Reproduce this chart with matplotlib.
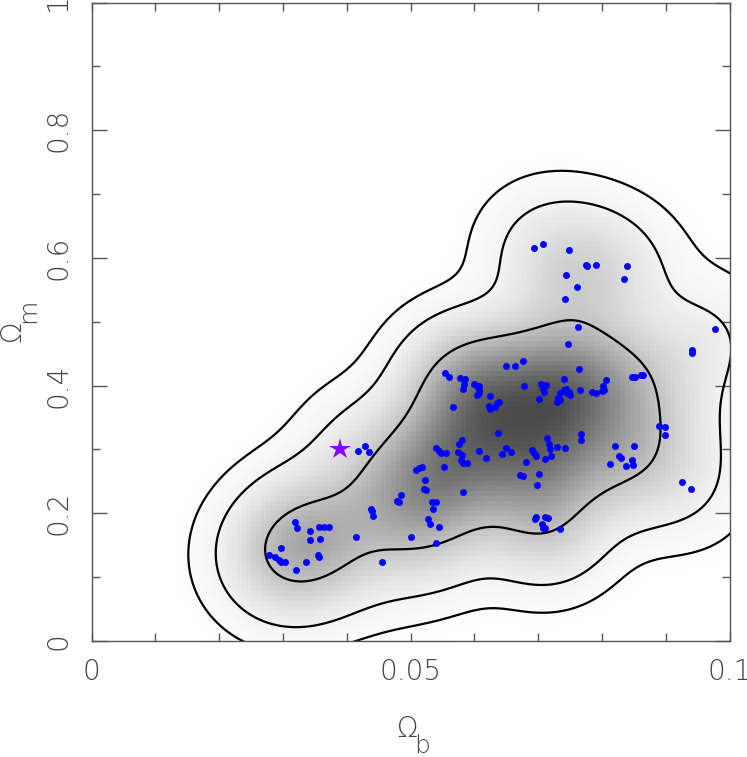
import numpy as np
import matplotlib
matplotlib.use('Agg')
from matplotlib import pyplot as plt
from matplotlib.colors import LinearSegmentedColormap

#Sample points (Omega_b, Omega_m)
omega_b = [0.0694, 0.0708, 0.0749, 0.0775, 0.0777, 0.0790, 0.0839, 0.0834, 0.0743, 0.0761,
           0.0742, 0.0762, 0.0747, 0.0978, 0.0942, 0.0942, 0.0676, 0.0650, 0.0664, 0.0764,
           0.0554, 0.0560, 0.0577, 0.0586, 0.0584, 0.0583, 0.0600, 0.0604, 0.0608, 0.0607,
           0.0605, 0.0608, 0.0624, 0.0636, 0.0639, 0.0633, 0.0623, 0.0624, 0.0566, 0.0678,
           0.0704, 0.0712, 0.0707, 0.0709, 0.0702, 0.0740, 0.0734, 0.0740, 0.0743, 0.0745,
           0.0750, 0.0731, 0.0729, 0.0734, 0.0748, 0.0765, 0.0784, 0.0791, 0.0801, 0.0804,
           0.0800, 0.0806, 0.0847, 0.0852, 0.0861, 0.0865, 0.0890, 0.0899, 0.0899, 0.0637,
           0.0768, 0.0768, 0.0580, 0.0576, 0.0575, 0.0581, 0.0579, 0.0583, 0.0589, 0.0540,
           0.0544, 0.0548, 0.0555, 0.0607, 0.0618, 0.0650, 0.0657, 0.0643, 0.0690, 0.0693,
           0.0697, 0.0714, 0.0717, 0.0718, 0.0729, 0.0742, 0.0711, 0.0720, 0.0820, 0.0850,
           0.0827, 0.0830, 0.0813, 0.0847, 0.0849, 0.0838, 0.0681, 0.0672, 0.0676, 0.0702,
           0.0698, 0.0553, 0.0508, 0.0513, 0.0518, 0.0523, 0.0521, 0.0524, 0.0582, 0.0925,
           0.0939, 0.0485, 0.0479, 0.0482, 0.0533, 0.0540, 0.0535, 0.0438, 0.0439, 0.0442,
           0.0527, 0.0530, 0.0545, 0.0501, 0.0540, 0.0414, 0.0695, 0.0697, 0.0711, 0.0716,
           0.0706, 0.0707, 0.0711, 0.0734, 0.0319, 0.0322, 0.0343, 0.0357, 0.0365, 0.0373,
           0.0342, 0.0358, 0.0297, 0.0278, 0.0287, 0.0294, 0.0297, 0.0303, 0.0355, 0.0357,
           0.0336, 0.0320, 0.0455, 0.0417, 0.0428, 0.0435]
omega_m = [0.616, 0.622, 0.613, 0.589, 0.588, 0.589, 0.588, 0.567, 0.573, 0.554,
           0.536, 0.491, 0.465, 0.488, 0.455, 0.451, 0.439, 0.431, 0.430, 0.426,
           0.420, 0.414, 0.412, 0.411, 0.403, 0.395, 0.403, 0.399, 0.399, 0.393,
           0.386, 0.388, 0.384, 0.372, 0.375, 0.367, 0.368, 0.364, 0.366, 0.399,
           0.403, 0.401, 0.394, 0.390, 0.379, 0.410, 0.388, 0.393, 0.394, 0.388,
           0.385, 0.380, 0.375, 0.377, 0.390, 0.393, 0.390, 0.388, 0.399, 0.393,
           0.392, 0.409, 0.413, 0.413, 0.416, 0.416, 0.337, 0.335, 0.323, 0.325,
           0.324, 0.315, 0.315, 0.308, 0.296, 0.292, 0.284, 0.278, 0.278, 0.302,
           0.298, 0.294, 0.295, 0.298, 0.287, 0.303, 0.296, 0.293, 0.299, 0.294,
           0.289, 0.318, 0.309, 0.301, 0.304, 0.303, 0.285, 0.289, 0.305, 0.305,
           0.290, 0.286, 0.277, 0.283, 0.276, 0.274, 0.280, 0.260, 0.259, 0.261,
           0.244, 0.272, 0.268, 0.271, 0.273, 0.252, 0.238, 0.236, 0.234, 0.249,
           0.238, 0.229, 0.220, 0.217, 0.218, 0.218, 0.207, 0.207, 0.203, 0.196,
           0.191, 0.183, 0.179, 0.163, 0.154, 0.163, 0.191, 0.194, 0.194, 0.192,
           0.184, 0.177, 0.177, 0.175, 0.186, 0.177, 0.173, 0.179, 0.179, 0.179,
           0.158, 0.160, 0.145, 0.135, 0.132, 0.127, 0.123, 0.123, 0.134, 0.131,
           0.124, 0.111, 0.124, 0.297, 0.305, 0.296]

#Fiducial model (star)
star_b = [0.039]
star_m = [0.300]

#Contour probability levels
levels_prob = [0.68, 0.95, 0.99]

pts = np.vstack([omega_b, omega_m])
n = pts.shape[1]

#Gaussian KDE with an axis-aligned kernel (Scott's rule, tuned per axis)
scott = n ** (-1.0 / 6.0)
sx = np.std(pts[0]) * scott * 0.9
sy = np.std(pts[1]) * scott * 1.22
norm = 1.0 / (2 * np.pi * sx * sy * n)


def kde(gx, gy):
    out = np.zeros_like(gx)
    for i in range(n):
        dx = (gx - pts[0, i]) / sx
        dy = (gy - pts[1, i]) / sy
        out += np.exp(-0.5 * (dx * dx + dy * dy))
    return out * norm


#fine grid for contours (wider than the plot so lines run off the edges)
xs = np.linspace(-0.04, 0.15, 400)
ys = np.linspace(-0.4, 1.3, 400)
GX, GY = np.meshgrid(xs, ys)
Z = kde(GX, GY)

#density thresholds enclosing the given mass
zf = np.sort(Z.ravel())[::-1]
cum = np.cumsum(zf)
cum /= cum[-1]
thresholds = sorted([zf[np.searchsorted(cum, p)] for p in levels_prob])

#coarse pixel image like the original
nb = 128
cx = (np.arange(nb) + 0.5) / nb * 0.1
cy = (np.arange(nb) + 0.5) / nb * 1.0
CX, CY = np.meshgrid(cx, cy)
img = kde(CX, CY)

cmap = LinearSegmentedColormap.from_list('greys', ['#ffffff', '#4a4a4a'])

fig = plt.figure(figsize=(7.47, 7.57), dpi=100)
ax = fig.add_axes([91.5 / 747, 1 - 641 / 757, 638 / 747, 638.5 / 757])

ax.imshow(img, origin='lower', extent=[0, 0.1, 0, 1], aspect='auto', cmap=cmap,
          interpolation='nearest', vmin=0, vmax=Z.max())
ax.contour(GX, GY, Z, levels=thresholds, colors='black', linewidths=1.6)

ax.plot(omega_b, omega_m, 'o', color='#0000ff', markersize=5, markeredgewidth=0)
ax.plot(star_b, star_m, '*', color='#8800ff', markersize=16, markeredgewidth=0)

ax.set_xlim(0, 0.1)
ax.set_ylim(0, 1)

ax.set_xticks([0, 0.05, 0.1])
ax.set_xticklabels(['0', '0.05', '0.1'])
ax.set_xticks(np.arange(0, 0.1001, 0.01), minor=True)
ax.set_yticks([0, 0.2, 0.4, 0.6, 0.8, 1])
ax.set_yticklabels(['0', '0.2', '0.4', '0.6', '0.8', '1'])
ax.set_yticks(np.arange(0, 1.001, 0.1), minor=True)

ax.tick_params(which='both', direction='in', top=True, right=True, color='#555555', width=1)
ax.tick_params(axis='x', which='both', length=6)
ax.tick_params(axis='y', which='major', length=11)
ax.tick_params(axis='y', which='minor', length=6)
ax.tick_params(axis='x', which='major', pad=12, labelsize=20, labelcolor='#444444')
ax.tick_params(axis='y', which='major', pad=14, labelsize=20, labelcolor='#444444')
for lab in ax.get_xticklabels() + ax.get_yticklabels():
    lab.set_fontweight('light')
for lab in ax.get_yticklabels():
    lab.set_rotation(90)
    lab.set_va('center')

for sp in ax.spines.values():
    sp.set_color('#555555')
    sp.set_linewidth(1.0)

#axis labels (Omega with a big lowered subscript)
fig.text(407 / 747, 1 - 729 / 757, 'Ω', fontsize=20, fontweight='light', color='#444444',
         ha='center', va='center')
fig.text(422 / 747, 1 - 746 / 757, 'b', fontsize=18, fontweight='light', color='#444444',
         ha='center', va='center')
fig.text(12 / 747, 1 - 331 / 757, 'Ω', fontsize=20, fontweight='light', color='#444444',
         ha='center', va='center', rotation=90)
fig.text(28 / 747, 1 - 311 / 757, 'm', fontsize=18, fontweight='light', color='#444444',
         ha='center', va='center', rotation=90)

plt.savefig('out.png', dpi=100)
